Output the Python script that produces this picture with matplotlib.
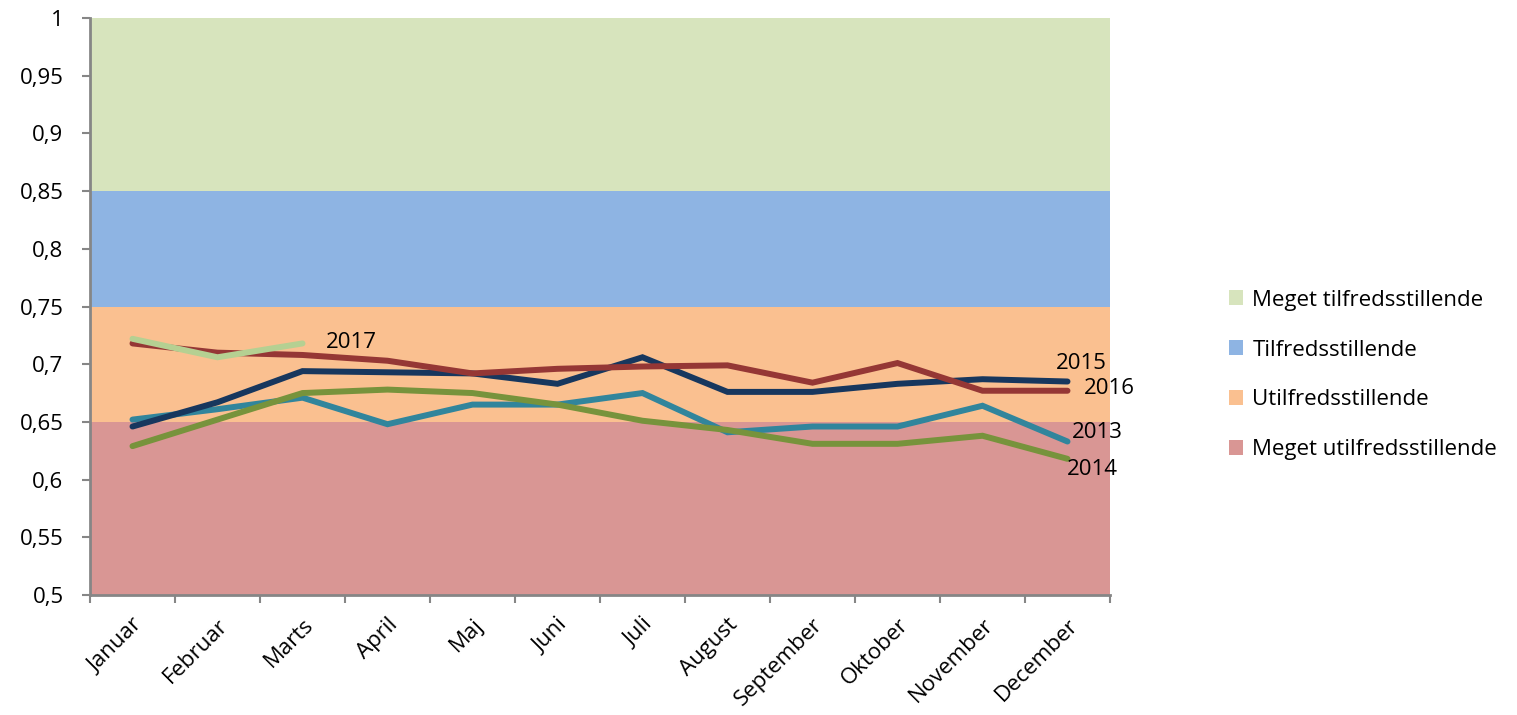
#!/usr/bin/env python3
"""Monthly satisfaction index 2013-2017 against rating bands."""

import matplotlib

matplotlib.use("Agg")
import matplotlib.pyplot as plt
from matplotlib.patches import Patch

TEXT = "#000000"
AXIS = "#868686"
FS = 16

months = ["Januar", "Februar", "Marts", "April", "Maj", "Juni", "Juli",
          "August", "September", "Oktober", "November", "December"]

v2013 = [0.652, 0.661, 0.671, 0.648, 0.665, 0.665, 0.675, 0.641, 0.646, 0.646, 0.664, 0.633]
v2014 = [0.629, 0.652, 0.675, 0.678, 0.675, 0.665, 0.651, 0.643, 0.631, 0.631, 0.638, 0.618]
v2015 = [0.646, 0.667, 0.694, 0.693, 0.692, 0.683, 0.706, 0.676, 0.676, 0.683, 0.687, 0.685]
v2016 = [0.718, 0.710, 0.708, 0.703, 0.692, 0.696, 0.698, 0.699, 0.684, 0.701, 0.677, 0.677]
v2017 = [0.722, 0.706, 0.718]

bands = [(0.85, 1.0, "Meget tilfredsstillende", "#D7E4BD"),
         (0.75, 0.85, "Tilfredsstillende", "#8EB4E3"),
         (0.65, 0.75, "Utilfredsstillende", "#FAC090"),
         (0.5, 0.65, "Meget utilfredsstillende", "#D99694")]

series = [("2013", v2013, "#31859C", (4, 9)),
          ("2014", v2014, "#77933C", (-1, -11)),
          ("2015", v2015, "#17375E", (-12, 18)),
          ("2016", v2016, "#953735", (16, 2)),
          ("2017", v2017, "#B5D092", (23, 1))]

yticks = [0.5, 0.55, 0.6, 0.65, 0.7, 0.75, 0.8, 0.85, 0.9, 0.95, 1.0]

plt.rcParams["font.family"] = ["Open Sans", "DejaVu Sans"]

fig = plt.figure(figsize=(15.17, 7.15), dpi=100)
ax = fig.add_axes([90 / 1517, 1 - 595 / 715, 1020 / 1517, 577 / 715])

for lo, hi, label, color in bands:
    ax.axhspan(lo, hi, color=color, lw=0, zorder=0)

for name, vals, color, off in series:
    xs = list(range(len(vals)))
    ax.plot(xs, vals, color=color, lw=4.3, solid_capstyle="round",
            solid_joinstyle="miter", zorder=3)
    ax.annotate(name, (xs[-1], vals[-1]), xytext=off, textcoords="offset pixels",
                ha="left", va="center", fontsize=FS, color=TEXT, zorder=4)

ax.set_xlim(-0.5, 11.5)
ax.set_ylim(0.5, 1.0)
ax.set_yticks(yticks)
ax.set_yticklabels([f"{t:g}".replace(".", ",") for t in yticks], fontsize=FS)
ax.set_xticks(range(len(months)))
ax.set_xticklabels(months, rotation=45, ha="right", rotation_mode="anchor", fontsize=FS)
ax.set_xticks([i - 0.5 for i in range(len(months) + 1)], minor=True)
ax.tick_params(axis="x", which="major", length=0, pad=14)
ax.tick_params(axis="x", which="minor", length=6, width=1.5, color=AXIS, direction="out")
ax.tick_params(axis="y", length=6, width=1.5, color=AXIS, direction="out", pad=13)

for side in ["top", "right"]:
    ax.spines[side].set_visible(False)
for side in ["left", "bottom"]:
    ax.spines[side].set_color(AXIS)
    ax.spines[side].set_linewidth(2)

handles = [Patch(facecolor=c, edgecolor="none", label=l) for _, _, l, c in bands]
fig.legend(handles=handles, loc="center left", bbox_to_anchor=(1229 / 1517, 1 - 375 / 715),
           frameon=False, fontsize=FS, handlelength=0.65, handleheight=0.65,
           handletextpad=0.4, labelspacing=1.3, borderpad=0, borderaxespad=0)

fig.savefig("out.png")
